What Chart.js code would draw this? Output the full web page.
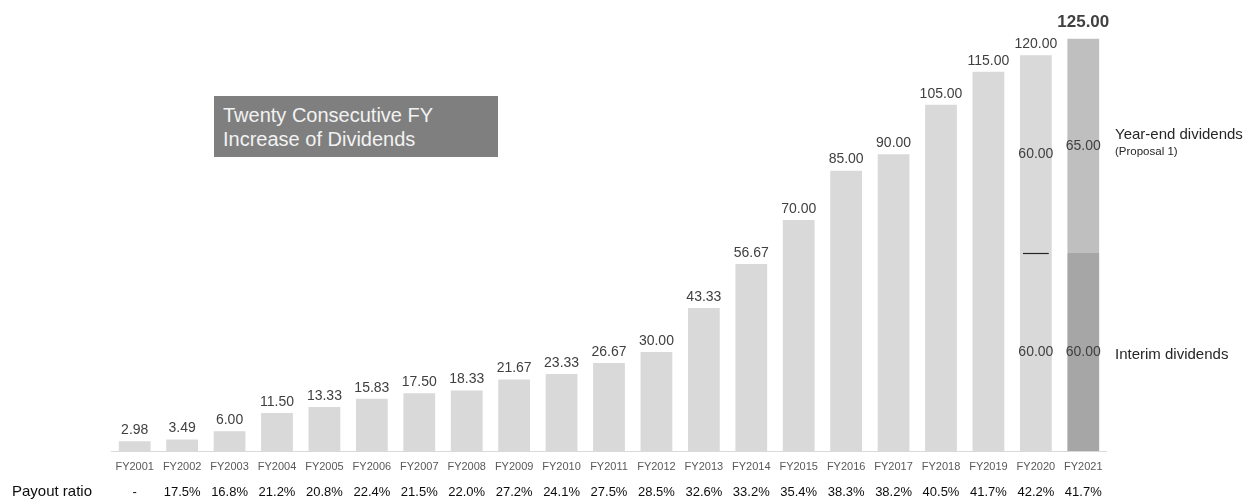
<!DOCTYPE html>
<html>
<head>
<meta charset="utf-8">
<script src="https://cdn.jsdelivr.net/npm/chart.js@4.4.1/dist/chart.umd.min.js"></script>
<style>
  html, body { margin: 0; padding: 0; background: #fff; }
  #wrap { position: relative; width: 1247px; height: 502px; }
  #note {
    position: absolute; left: 214px; top: 96px; width: 284px; height: 61px;
    background: #7f7f7f; color: #f2f2f2;
    font: 20px "Liberation Sans", Arial, sans-serif; line-height: 24px;
    padding: 7px 0 0 9px; box-sizing: border-box; white-space: nowrap;
  }
</style>
</head>
<body>
<div id="wrap">
  <canvas id="chart" width="1247" height="502"></canvas>
  <div id="note">Twenty Consecutive FY<br>Increase of Dividends</div>
</div>
<script>
// ======= Data =======
const categories = ["FY2001","FY2002","FY2003","FY2004","FY2005","FY2006","FY2007",
  "FY2008","FY2009","FY2010","FY2011","FY2012","FY2013","FY2014","FY2015","FY2016",
  "FY2017","FY2018","FY2019","FY2020","FY2021"];
const totals = [2.98, 3.49, 6.00, 11.50, 13.33, 15.83, 17.50, 18.33, 21.67, 23.33, 26.67,
  30.00, 43.33, 56.67, 70.00, 85.00, 90.00, 105.00, 115.00, 120.00, 125.00];
// split into interim / year-end only for the last two years
const interim = [null,null,null,null,null,null,null,null,null,null,null,null,null,null,null,null,null,null,null, 60, 60];
const yearEnd = [null,null,null,null,null,null,null,null,null,null,null,null,null,null,null,null,null,null,null, 60, 65];
const payout = ["-","17.5%","16.8%","21.2%","20.8%","22.4%","21.5%","22.0%","27.2%","24.1%",
  "27.5%","28.5%","32.6%","33.2%","35.4%","38.3%","38.2%","40.5%","41.7%","42.2%","41.7%"];

const annual = totals.map((v, i) => interim[i] == null ? v : null);
const FONT = '"Liberation Sans", Arial, sans-serif';

// ======= Labels plugin =======
const labelsPlugin = {
  id: "labels",
  afterDatasetsDraw(chart) {
    const { ctx, scales: { x, y }, chartArea } = chart;
    ctx.save();
    ctx.textAlign = "center";

    // values on top of bars
    totals.forEach((v, i) => {
      const cx = x.getPixelForValue(i);
      const top = y.getPixelForValue(v);
      const last = i === totals.length - 1;
      ctx.font = (last ? "bold 17px " : "14px ") + FONT;
      ctx.fillStyle = "#404040";
      ctx.textBaseline = "bottom";
      ctx.fillText(v.toFixed(2), cx, top - (last ? 8 : 4));
    });

    // values inside split bars
    ctx.font = "14px " + FONT;
    ctx.textBaseline = "middle";
    interim.forEach((v, i) => {
      if (v == null) return;
      const cx = x.getPixelForValue(i);
      ctx.fillStyle = "#404040";
      ctx.fillText(v.toFixed(2), cx, (y.getPixelForValue(0) + y.getPixelForValue(v)) / 2);
      const ye = yearEnd[i];
      ctx.fillText(ye.toFixed(2), cx, (y.getPixelForValue(v) + y.getPixelForValue(v + ye)) / 2);
    });

    // divider line on FY2020
    const bar = chart.getDatasetMeta(1).data[19];
    if (bar) {
      const half = bar.width / 2 - 3;
      const ly = Math.round(y.getPixelForValue(interim[19])) + 0.5;
      ctx.strokeStyle = "#262626";
      ctx.lineWidth = 1.2;
      ctx.beginPath();
      ctx.moveTo(bar.x - half, ly);
      ctx.lineTo(bar.x + half, ly);
      ctx.stroke();
    }

    // baseline
    const base = Math.round(y.getPixelForValue(0)) + 0.5;
    ctx.strokeStyle = "#d9d9d9";
    ctx.lineWidth = 1;
    ctx.beginPath();
    ctx.moveTo(chartArea.left, base);
    ctx.lineTo(chartArea.right, base);
    ctx.stroke();

    // category labels
    ctx.font = "11px " + FONT;
    ctx.fillStyle = "#595959";
    categories.forEach((c, i) => ctx.fillText(c, x.getPixelForValue(i), 467));

    // payout ratio row
    ctx.font = "13px " + FONT;
    ctx.fillStyle = "#0d0d0d";
    payout.forEach((p, i) => ctx.fillText(p, x.getPixelForValue(i), 492));
    ctx.textAlign = "left";
    ctx.font = "15px " + FONT;
    ctx.fillText("Payout ratio", 12, 492);

    // legend texts on the right
    const lx = chartArea.right + 8;
    ctx.fillStyle = "#262626";
    ctx.font = "15px " + FONT;
    ctx.fillText("Year-end dividends", lx, 135);
    ctx.font = "11.5px " + FONT;
    ctx.fillText("(Proposal 1)", lx, 152);
    ctx.font = "15px " + FONT;
    ctx.fillText("Interim dividends", lx, 355);

    ctx.restore();
  }
};

// ======= Chart =======
new Chart(document.getElementById("chart"), {
  type: "bar",
  data: {
    labels: categories,
    datasets: [
      { label: "Annual", data: annual, backgroundColor: "#d9d9d9" },
      { label: "Interim", data: interim,
        backgroundColor: interim.map((v, i) => i === 20 ? "#a6a6a6" : "#d9d9d9") },
      { label: "Year-end", data: yearEnd,
        backgroundColor: yearEnd.map((v, i) => i === 20 ? "#bfbfbf" : "#d9d9d9") }
    ]
  },
  options: {
    responsive: false,
    animation: false,
    layout: { padding: { left: 111, right: 140, top: 9, bottom: 51 } },
    datasets: { bar: { barPercentage: 0.67, categoryPercentage: 1, borderWidth: 0 } },
    plugins: { legend: { display: false }, tooltip: { enabled: false } },
    scales: {
      x: { stacked: true, display: false },
      y: { stacked: true, display: false, min: 0, max: 134 }
    }
  },
  plugins: [labelsPlugin]
});
</script>
</body>
</html>
